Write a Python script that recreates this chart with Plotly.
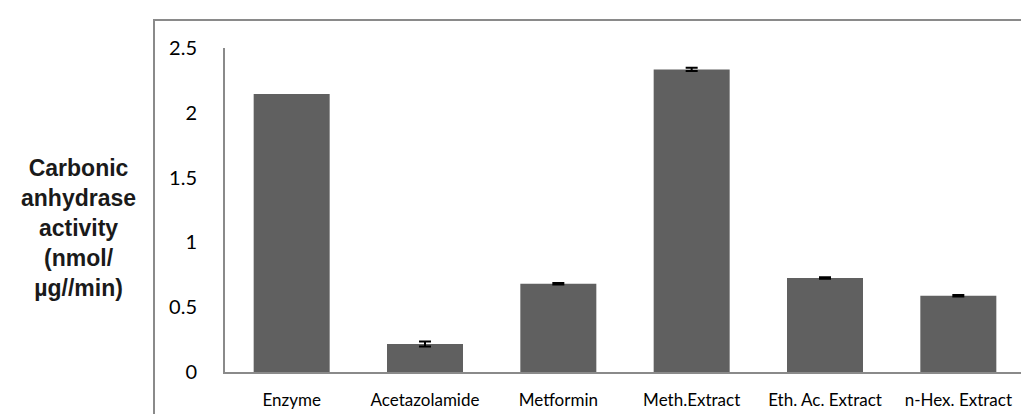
import plotly.graph_objects as go

categories = ["Enzyme", "Acetazolamide", "Metformin", "Meth.Extract", "Eth. Ac. Extract", "n-Hex. Extract"]
values = [2.145, 0.216, 0.681, 2.335, 0.725, 0.589]
errors = [None, 0.02, 0.006, 0.013, 0.006, 0.006]
y_ticks = [0, 0.5, 1, 1.5, 2, 2.5]
y_tick_labels = ["0", "0.5", "1", "1.5", "2", "2.5"]
y_title = "<b>Carbonic<br>anhydrase<br>activity<br>(nmol/<br>µg//min)</b>"

W, H = 1029, 414
L, R, T, B = 217, 12, 40, 50
pw, ph = W - L - R, H - T - B

fig = go.Figure()
fig.add_trace(go.Bar(
    x=categories, y=values,
    marker=dict(color="#606060", line=dict(width=0)),
    width=0.57,
))

err_x = [c for c, e in zip(categories, errors) if e is not None]
err_y = [v for v, e in zip(values, errors) if e is not None]
err_v = [e for e in errors if e is not None]
fig.add_trace(go.Scatter(
    x=err_x, y=err_y, mode="markers",
    marker=dict(size=1, color="rgba(0,0,0,0)"),
    error_y=dict(type="data", array=err_v, visible=True, color="black", thickness=2, width=6),
    hoverinfo="skip",
))

def px_x(p):
    return (p - L) / pw

def px_y(p):
    return (H - B - p) / ph

fig.add_shape(type="rect", xref="paper", yref="paper",
              x0=px_x(146), x1=px_x(1040), y0=px_y(430), y1=px_y(12),
              line=dict(color="#8a8a8a", width=2), fillcolor="rgba(0,0,0,0)", layer="below")

fig.add_annotation(text=y_title, xref="paper", yref="paper", x=px_x(70), y=px_y(220),
                   showarrow=False, align="center", xanchor="center", yanchor="middle",
                   font=dict(family="Liberation Sans, Arial", size=23, color="#1a1a1a"))

fig.update_layout(
    width=W, height=H,
    margin=dict(l=L, r=R, t=T, b=B, pad=0),
    paper_bgcolor="white", plot_bgcolor="white",
    showlegend=False,
    font=dict(family="Lato, Carlito, sans-serif", color="black"),
    xaxis=dict(showline=True, linecolor="#8a8a8a", linewidth=2, showgrid=False, zeroline=False,
               ticks="", tickfont=dict(size=17), ticklabelstandoff=12),
    yaxis=dict(range=[0, 2.5], tickvals=y_ticks, ticktext=y_tick_labels, showline=True,
               linecolor="#8a8a8a", linewidth=2, showgrid=False, zeroline=False, ticks="",
               tickfont=dict(size=20), ticklabelstandoff=22),
)

fig.write_html("out.html")
